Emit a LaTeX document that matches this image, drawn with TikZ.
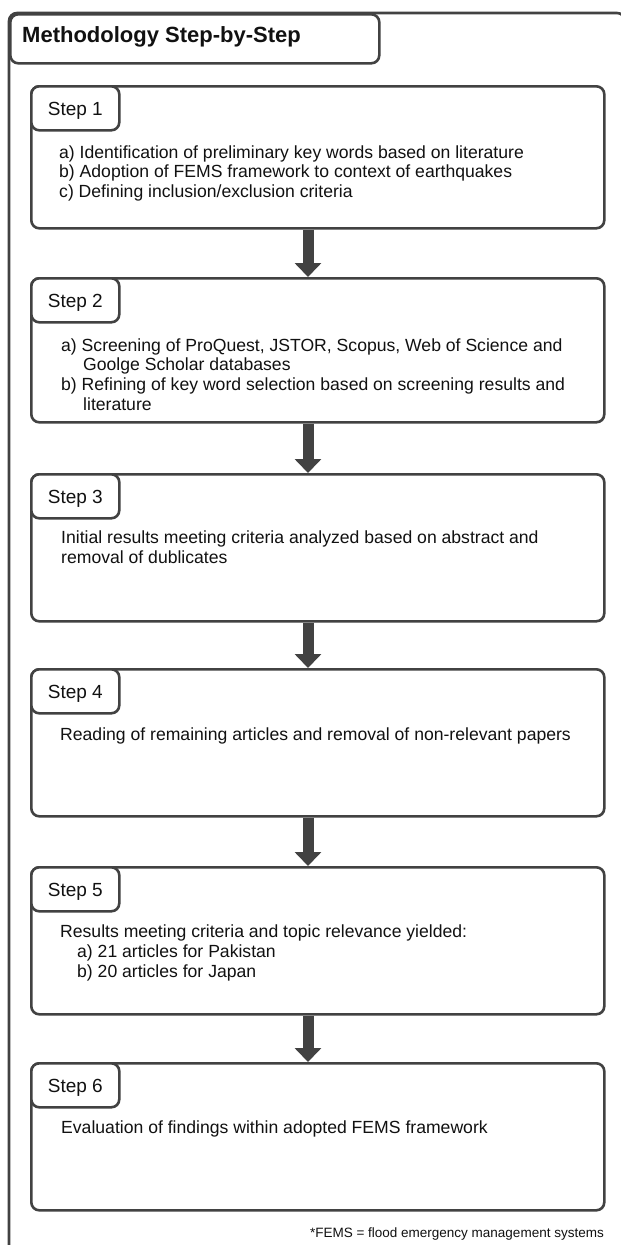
\documentclass[tikz,border=0pt]{standalone}
\usepackage{fontspec}
\setmainfont{Liberation Sans}
\usetikzlibrary{arrows.meta}
\definecolor{ln}{HTML}{424242}
\definecolor{tx}{HTML}{111111}
\tikzset{
  frame/.style={draw=ln, line width=2.6pt, rounded corners=8pt},
  stepbox/.style={draw=ln, fill=white, line width=2.6pt, rounded corners=8pt, inner sep=0pt, anchor=north west, minimum width=573pt},
  lblbox/.style={draw=ln, fill=white, line width=2.6pt, rounded corners=8pt, inner sep=0pt, anchor=north west, minimum width=88pt, minimum height=44pt, text height=14pt, text depth=0pt, font=\fontsize{19}{22}\selectfont, text=tx},
  body/.style={font=\fontsize{17.6}{20}\selectfont, anchor=base west, inner sep=0pt, text=tx},
  flow/.style={draw=ln, line width=11pt, -{Triangle[width=26pt,length=14pt]}},
}
\begin{document}
\begin{tikzpicture}[x=1pt,y=-1pt]
\useasboundingbox (0,0) rectangle (621,1245);
\clip (0,0) rectangle (621,1245);
\fill[white] (0,0) rectangle (621,1245);
% outer frame
\draw[frame] (9,1270) -- (9,13) -- (625,13) -- (625,1270);
% title
\node[draw=ln, fill=white, line width=2.6pt, rounded corners=8pt, inner sep=0pt, anchor=north west, minimum width=369pt, minimum height=49pt] (title) at (9,13) {};
\node[anchor=base west, inner sep=0pt, font=\fontsize{22}{26}\selectfont\bfseries, text=tx] (titletext) at (22,42) {Methodology Step-by-Step};
\coordinate (ax) at (308,0);
% step 1
\node[stepbox, minimum height=142pt] (b1) at (30,85) {};
\node[lblbox] (l1) at (30,85) {Step 1};
\node[body] (t1a) at (59,158) {a) Identification of preliminary key words based on literature};
\node[body] (t1b) at (59,177.5) {b) Adoption of FEMS framework to context of earthquakes};
\node[body] (t1c) at (59,197) {c) Defining inclusion/exclusion criteria};
% step 2
\node[stepbox, minimum height=144pt] (b2) at (30,277) {};
\node[lblbox] (l2) at (30,277) {Step 2};
\node[body] (t2a) at (61,351) {a) Screening of ProQuest, JSTOR, Scopus, Web of Science and};
\node[body] (t2b) at (83,370.7) {Goolge Scholar databases};
\node[body] (t2c) at (61,390.4) {b) Refining of key word selection based on screening results and};
\node[body] (t2d) at (83,410) {literature};
% step 3
\node[stepbox, minimum height=147pt] (b3) at (30,473) {};
\node[lblbox] (l3) at (30,473) {Step 3};
\node[body] (t3a) at (61,543) {Initial results meeting criteria analyzed based on abstract and};
\node[body] (t3b) at (61,563.5) {removal of dublicates};
% step 4
\node[stepbox, minimum height=147pt] (b4) at (30,668) {};
\node[lblbox] (l4) at (30,668) {Step 4};
\node[body] (t4a) at (60,740) {Reading of remaining articles and removal of non-relevant papers};
% step 5
\node[stepbox, minimum height=147pt] (b5) at (30,866) {};
\node[lblbox] (l5) at (30,866) {Step 5};
\node[body] (t5a) at (60,937) {Results meeting criteria and topic relevance yielded:};
\node[body] (t5b) at (77,957) {a) 21 articles for Pakistan};
\node[body] (t5c) at (77,977) {b) 20 articles for Japan};
% step 6
\node[stepbox, minimum height=147pt] (b6) at (30,1062) {};
\node[lblbox] (l6) at (30,1062) {Step 6};
\node[body] (t6a) at (61,1133) {Evaluation of findings within adopted FEMS framework};
% arrows
\draw[flow] (b1.south -| ax) -- (b2.north -| ax);
\draw[flow] (b2.south -| ax) -- (b3.north -| ax);
\draw[flow] (b3.south -| ax) -- (b4.north -| ax);
\draw[flow] (b4.south -| ax) -- (b5.north -| ax);
\draw[flow] (b5.south -| ax) -- (b6.north -| ax);
% footnote
\node[anchor=base east, inner sep=0pt, font=\fontsize{13.5}{16}\selectfont, text=tx] (foot) at (604,1237) {*FEMS = flood emergency management systems};
\end{tikzpicture}
\end{document}
